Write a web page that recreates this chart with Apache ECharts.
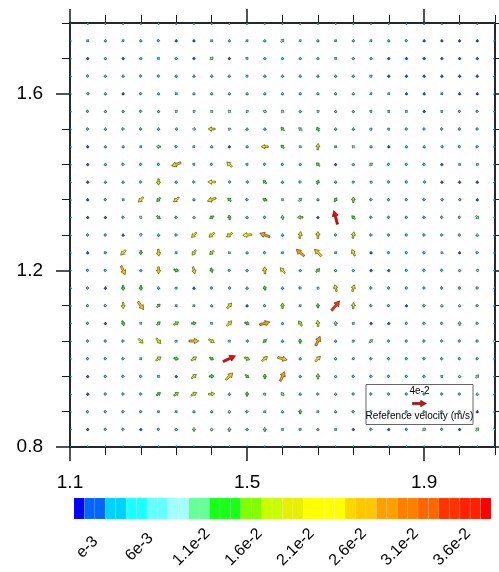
<!DOCTYPE html>
<html><head><meta charset="utf-8">
<script src="https://cdn.jsdelivr.net/npm/echarts@6/dist/echarts.min.js"></script>
<style>html,body{margin:0;padding:0;background:#fff}#c{width:499px;height:572px}</style>
</head><body><div id="c"></div>
<script>
// ---- data ----
const xValues = [1.10,1.14,1.18,1.22,1.26,1.30,1.34,1.38,1.42,1.46,1.50,1.54,1.58,1.62,1.66,1.70,1.74,1.78,1.82,1.86,1.90,1.94,1.98,2.02,2.06];
const yValues = [1.76,1.72,1.68,1.64,1.60,1.56,1.52,1.48,1.44,1.40,1.36,1.32,1.28,1.24,1.20,1.16,1.12,1.08,1.04,1.00,0.96,0.92,0.88,0.84,0.80];
// speed in units of 1e-3 m/s, one row per y value (top to bottom)
const speedRows = [
[4,5,5,5,5,5,3,5,5,5,5,5,5,5,5,5,5,5,5,3,3,3,3,3,3],
[4,5,5,6,5,5,2,2,5,5,5,5,12,7,5,5,5,6,5,5,2,2,2,2,3],
[3,2,6,2,5,5,5,2,11,2,6,5,5,5,5,6,5,6,2,2,2,2,2,2,2],
[4,5,6,5,5,5,5,6,6,6,5,5,5,6,5,6,6,6,2,2,2,2,2,2,3],
[4,5,6,2,5,6,5,5,5,5,5,6,5,5,6,5,6,6,6,2,2,4,2,2,3],
[4,5,6,5,5,6,7,7,7,10,7,10,10,5,7,5,5,6,6,6,2,5,5,5,4],
[4,5,5,5,5,5,7,9,20,7,5,5,13,12,13,5,5,6,6,5,5,5,5,5,4],
[4,2,5,5,6,12,5,6,5,2,6,20,13,7,18,6,9,5,2,5,5,6,5,5,4],
[4,2,5,5,5,5,28,6,5,20,6,5,5,5,13,2,5,11,5,5,5,2,6,6,4],
[4,2,5,5,5,18,6,5,22,6,6,13,5,5,13,5,6,6,5,5,6,2,2,2,3],
[4,2,5,6,20,15,20,5,26,13,5,13,7,12,5,13,16,5,5,5,5,6,6,2,3],
[4,2,2,5,9,13,5,7,13,14,5,5,12,16,2,41,13,5,5,5,5,5,5,12,4],
[4,5,5,2,9,5,5,20,20,20,25,30,5,20,20,5,19,5,5,5,5,5,5,7,4],
[4,2,5,20,13,20,5,18,16,8,5,5,5,30,28,5,20,2,5,5,5,7,2,5,4],
[4,5,5,28,5,20,14,20,14,5,5,20,20,5,14,5,5,2,2,5,5,5,7,7,4],
[4,5,2,15,14,5,5,2,5,6,5,13,5,5,8,20,20,5,5,5,5,5,5,5,4],
[4,5,5,18,28,13,5,5,5,20,2,5,16,5,13,36,18,5,5,2,5,7,7,5,4],
[4,5,2,15,8,13,16,14,5,20,14,30,5,17,18,12,5,2,2,5,5,5,12,5,4],
[4,5,5,5,18,20,5,28,18,5,6,13,5,13,30,5,5,12,5,5,5,5,5,5,10],
[4,5,5,5,5,18,14,18,13,39,16,20,28,5,20,5,5,5,5,5,5,5,5,5,4],
[4,2,5,5,5,5,2,18,14,28,13,14,30,5,16,7,5,5,5,5,5,6,7,12,4],
[4,2,5,5,5,14,16,18,18,5,13,5,12,5,5,7,5,5,5,5,5,5,5,7,4],
[4,5,5,5,5,5,6,5,5,9,5,5,5,13,5,5,5,5,5,5,5,5,5,2,4],
[4,2,5,5,2,5,6,11,9,12,5,12,5,6,5,5,2,5,2,5,11,5,2,12,8],
[4,4,4,4,4,4,4,4,4,4,4,4,4,4,4,4,4,4,4,4,4,8,8,4,4]
];
// direction in degrees (0 = towards +x, 90 = towards +y)
const dirRows = [
[90,90,90,90,90,90,90,90,90,90,90,90,90,90,90,90,90,90,90,90,90,90,90,90,90],
[90,45,90,45,90,0,90,90,45,90,45,90,45,45,90,45,90,45,90,0,90,90,90,90,90],
[90,90,90,90,90,45,90,90,45,90,45,90,90,90,90,45,90,90,90,90,90,90,90,90,90],
[90,0,90,90,0,0,90,90,90,90,45,90,90,90,90,90,90,45,90,90,90,90,90,90,90],
[90,180,90,90,0,90,135,90,90,90,90,90,90,90,90,90,90,45,45,90,90,45,90,90,90],
[90,0,90,90,0,90,135,135,135,135,135,160,135,90,135,90,90,45,45,45,90,45,0,0,90],
[90,0,90,0,0,90,170,175,180,135,90,90,135,140,115,90,90,45,45,0,0,0,0,0,90],
[90,90,90,90,45,180,0,45,90,90,90,180,135,135,85,45,135,90,90,90,90,180,0,0,90],
[90,90,90,0,0,0,200,45,0,135,45,0,0,90,135,90,90,45,0,0,0,90,135,135,90],
[90,90,90,90,0,270,90,0,180,180,180,135,90,0,70,90,45,135,0,0,180,90,90,90,90],
[90,90,0,135,225,225,220,90,200,135,0,160,135,45,90,60,90,0,0,0,0,180,180,90,90],
[90,90,90,0,315,320,0,90,210,100,90,0,100,180,90,105,135,0,0,0,0,0,0,315,90],
[90,0,0,90,270,90,0,225,220,215,185,160,90,80,90,0,80,0,0,0,0,0,0,90,90],
[90,90,30,225,270,275,45,235,225,135,90,0,45,140,135,45,115,90,0,0,0,135,90,0,90],
[90,0,0,295,90,270,340,285,285,0,90,95,130,90,45,90,90,90,90,0,0,0,90,180,90],
[90,0,90,270,270,90,45,90,0,180,90,105,90,0,135,105,75,0,0,0,0,0,0,0,90],
[90,0,0,270,305,45,45,45,90,50,90,0,90,45,90,50,85,0,0,90,0,90,90,0,90],
[90,0,90,290,315,45,30,5,45,45,340,15,90,125,95,90,45,90,90,0,0,0,90,0,90],
[90,0,0,0,315,310,45,0,330,45,180,45,90,90,65,90,45,45,0,0,0,0,0,0,45],
[90,0,0,0,45,35,350,35,330,25,335,40,345,90,45,90,45,0,0,0,0,0,0,0,90],
[90,90,0,0,0,45,90,40,5,45,320,90,65,90,90,90,0,0,0,0,0,45,90,45,90],
[90,90,0,0,0,35,35,30,5,90,90,45,130,90,0,90,0,0,0,0,0,0,0,90,90],
[90,0,0,0,0,45,45,90,90,90,0,45,90,90,45,90,0,0,0,0,0,0,0,90,90],
[90,90,0,0,90,0,90,90,90,90,90,90,45,45,90,45,90,0,90,0,45,0,90,45,45],
[90,90,90,90,90,90,90,90,90,90,90,90,90,90,90,90,90,90,90,90,90,90,90,90,90]
];
const xMajorTicks = [1.1, 1.5, 1.9];
const xMinorTicks = [1.18, 1.26, 1.34, 1.42, 1.58, 1.66, 1.74, 1.82, 1.98, 2.06];
const yMajorTicks = [0.8, 1.2, 1.6];
const yMinorTicks = [0.88, 0.96, 1.04, 1.12, 1.28, 1.36, 1.44, 1.52, 1.68, 1.76];
const levels = [0,0.001,0.002,0.003,0.004,0.005,0.006,0.007,0.008,0.009,0.010,0.011,0.012,0.013,0.014,0.015,0.016,0.017,0.018,0.019,0.020,0.021,0.022,0.023,0.024,0.025,0.026,0.027,0.028,0.029,0.030,0.031,0.032,0.033,0.034,0.035,0.036,0.037,0.038,0.039,0.040];
const levelLabelValues = [0.001, 0.006, 0.011, 0.016, 0.021, 0.026, 0.031, 0.036];
const levelLabels = ['e-3', '6e-3', '1.1e-2', '1.6e-2', '2.1e-2', '2.6e-2', '3.1e-2', '3.6e-2'];
const boxColors = ['#0000ff','#0066ff','#0066ff','#00d2ff','#00d2ff','#1affff','#1affff','#66ffff','#66ffff','#a0ffff',
  '#a0ffff','#66ff99','#66ff99','#1aff1a','#1aff1a','#1aff1a','#80ff00','#80ff00','#c8ff00','#c8ff00',
  '#e6f000','#e6f000','#ffff00','#ffff00','#ffff00','#ffff00','#ffd700','#ffc800','#ffc800','#ffa000',
  '#ffa000','#ff8000','#ff8000','#ff6600','#ff6600','#ff3300','#ff3300','#ff2200','#ff2200','#ff0000'];
const refSpeed = 0.04;
const refLabel = '4e-2';
const refTitle = 'Reference velocity (m/s)';

// ---- helpers ----
const K = 0.79; // arrow length in axis units per m/s
const FONT = '"Liberation Sans", Arial, Helvetica, sans-serif';
function clamp(v, a, b) { return Math.max(a, Math.min(b, v)); }
function colorFor(s) {
  const idx = clamp(Math.floor(s * 1000 + 1e-6), 0, boxColors.length - 1);
  return boxColors[idx];
}
function arrowPoints(p0, p1) {
  const dx = p1[0] - p0[0], dy = p1[1] - p0[1];
  const L = Math.hypot(dx, dy);
  const ux = L > 0 ? dx / L : 1, uy = L > 0 ? dy / L : 0;
  const cx = (p0[0] + p1[0]) / 2, cy = (p0[1] + p1[1]) / 2;
  const Le = Math.max(L, 2.8);
  const tail = [cx - ux * Le / 2, cy - uy * Le / 2];
  const tip = [cx + ux * Le / 2, cy + uy * Le / 2];
  const hl = clamp(0.36 * Le + 0.9, 1.5, 5.8);
  const hw = clamp(0.32 * Le + 2.1, 2.6, 6.4);
  const ws = clamp(0.11 * Le + 0.9, 1.1, 2.3);
  const nx = -uy, ny = ux;
  const neck = [tip[0] - ux * hl, tip[1] - uy * hl];
  return [
    [tail[0] + nx * ws / 2, tail[1] + ny * ws / 2],
    [neck[0] + nx * ws / 2, neck[1] + ny * ws / 2],
    [neck[0] + nx * hw / 2, neck[1] + ny * hw / 2],
    tip,
    [neck[0] - nx * hw / 2, neck[1] - ny * hw / 2],
    [neck[0] - nx * ws / 2, neck[1] - ny * ws / 2],
    [tail[0] - nx * ws / 2, tail[1] - ny * ws / 2]
  ];
}
const arrowEdge = { stroke: 'rgba(20,20,20,0.85)', lineWidth: 0.6 };

const vectors = [];
yValues.forEach((y, r) => {
  xValues.forEach((x, c) => {
    const s = speedRows[r][c] * 1e-3;
    const a = dirRows[r][c] * Math.PI / 180;
    vectors.push([x, y, s * Math.cos(a), s * Math.sin(a), s]);
  });
});
const boxes = boxColors.map((col, k) => [levels[k], levels[k + 1], k]);

const xMin = xValues[0], xMax = xValues[xValues.length - 1];
const yMin = yValues[yValues.length - 1], yMax = yValues[0];
const lineCol = '#1a1a1a';

function xAxisDef(position, ticks, len, width, withLabels) {
  return {
    gridIndex: 0, type: 'value', min: xMin, max: xMax, position: position,
    axisLine: { show: true, onZero: false, lineStyle: { color: lineCol, width: 1.5 } },
    axisTick: { show: true, customValues: ticks, length: len, lineStyle: { color: lineCol, width: width } },
    axisLabel: withLabels ? { show: true, customValues: ticks, formatter: v => v.toFixed(1), margin: 26,
      fontSize: 19, color: '#000', fontFamily: FONT } : { show: false },
    splitLine: { show: false }
  };
}
function yAxisDef(position, ticks, len, width, withLabels) {
  return {
    gridIndex: 0, type: 'value', min: yMin, max: yMax, position: position,
    axisLine: { show: true, onZero: false, lineStyle: { color: lineCol, width: 1.5 } },
    axisTick: { show: true, customValues: ticks, length: len, lineStyle: { color: lineCol, width: width } },
    axisLabel: withLabels ? { show: true, customValues: ticks, formatter: v => v.toFixed(1), margin: 27,
      fontSize: 19, color: '#000', fontFamily: FONT } : { show: false },
    splitLine: { show: false }
  };
}

const chart = echarts.init(document.getElementById('c'), null, { renderer: 'canvas' });
chart.setOption({
  animation: false,
  backgroundColor: '#ffffff',
  grid: [
    { left: 70, top: 23, width: 425, height: 424, containLabel: false, outerBoundsMode: 'none' },
    { left: 74, top: 498, width: 417, height: 21, containLabel: false, outerBoundsMode: 'none' }
  ],
  xAxis: [
    xAxisDef('bottom', xMajorTicks, 14, 1.5, true),
    xAxisDef('bottom', xMinorTicks, 8, 1, false),
    xAxisDef('top', xMajorTicks, 14, 1.5, false),
    xAxisDef('top', xMinorTicks, 8, 1, false),
    { gridIndex: 1, type: 'value', min: levels[0], max: levels[levels.length - 1], position: 'bottom',
      axisLine: { show: false }, axisTick: { show: false }, splitLine: { show: false },
      axisLabel: { show: true, customValues: levelLabelValues, rotate: 45, align: 'center', verticalAlign: 'middle',
        margin: 31, padding: [0, 0, 0, 8], fontSize: 16, color: '#000', fontFamily: FONT,
        formatter: v => { const i = levelLabelValues.findIndex(t => Math.abs(t - v) < 1e-9); return i >= 0 ? levelLabels[i] : ''; } } }
  ],
  yAxis: [
    yAxisDef('left', yMajorTicks, 14, 1.5, true),
    yAxisDef('left', yMinorTicks, 8, 1, false),
    yAxisDef('right', yMajorTicks, 14, 1.5, false),
    yAxisDef('right', yMinorTicks, 8, 1, false),
    { gridIndex: 1, type: 'value', min: 0, max: 1, show: false }
  ],
  series: [
    {
      type: 'custom', coordinateSystem: 'cartesian2d', xAxisIndex: 0, yAxisIndex: 0,
      clip: true, silent: true, data: vectors, encode: { x: 0, y: 1 },
      renderItem: function (params, api) {
        const x = api.value(0), y = api.value(1), u = api.value(2), v = api.value(3), s = api.value(4);
        const p0 = api.coord([x - u * K / 2, y - v * K / 2]);
        const p1 = api.coord([x + u * K / 2, y + v * K / 2]);
        return { type: 'polygon', shape: { points: arrowPoints(p0, p1) },
          style: { fill: colorFor(s), stroke: arrowEdge.stroke, lineWidth: arrowEdge.lineWidth } };
      }
    },
    {
      type: 'custom', coordinateSystem: 'cartesian2d', xAxisIndex: 4, yAxisIndex: 4,
      silent: true, data: boxes, encode: { x: [0, 1] },
      renderItem: function (params, api) {
        const a = api.coord([api.value(0), 1]);
        const b = api.coord([api.value(1), 0]);
        return { type: 'rect', shape: { x: a[0], y: a[1], width: b[0] - a[0], height: b[1] - a[1] },
          style: { fill: boxColors[api.value(2)], stroke: 'rgba(255,255,255,0.18)', lineWidth: 0.5 } };
      }
    }
  ]
});

// reference vector legend, arrow length taken from the plot's own scale
const pa = chart.convertToPixel({ xAxisIndex: 0, yAxisIndex: 0 }, [xMin, yMin]);
const pb = chart.convertToPixel({ xAxisIndex: 0, yAxisIndex: 0 }, [xMin + refSpeed * K, yMin]);
const refLen = Math.abs(pb[0] - pa[0]);
const bx = 366, by = 384.5, bw = 107, bh = 40, cxm = bx + bw / 2;
chart.setOption({
  graphic: [{
    type: 'group', z: 100, children: [
      { type: 'rect', shape: { x: bx, y: by, width: bw, height: bh }, style: { fill: '#fff', stroke: '#666', lineWidth: 1 } },
      { type: 'text', x: cxm, y: by + 7, style: { text: refLabel, fontSize: 10, fontFamily: FONT, fill: '#000', align: 'center', verticalAlign: 'middle' } },
      { type: 'polygon', shape: { points: arrowPoints([cxm - refLen / 2, by + 19], [cxm + refLen / 2, by + 19]) },
        style: { fill: colorFor(refSpeed), stroke: arrowEdge.stroke, lineWidth: arrowEdge.lineWidth } },
      { type: 'text', x: cxm, y: by + 32, style: { text: refTitle, fontSize: 10, fontFamily: FONT, fill: '#000', align: 'center', verticalAlign: 'middle' } }
    ]
  }]
});
</script>
</body></html>
